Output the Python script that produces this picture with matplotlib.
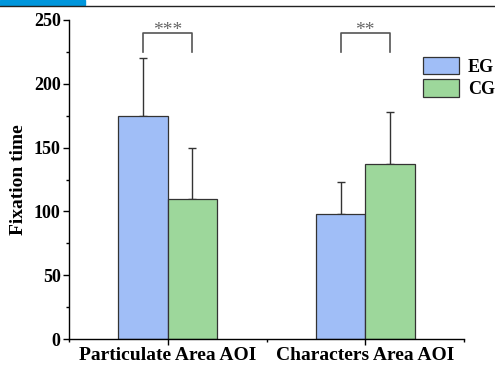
import numpy as np
import matplotlib
matplotlib.use("Agg")
import matplotlib.pyplot as plt
from matplotlib.patches import Rectangle
from matplotlib.lines import Line2D

# data
categories = ["Particulate Area AOI", "Characters Area AOI"]
groups = ["EG", "CG"]
eg_mean = [175, 98]
eg_err = [45, 25]
cg_mean = [110, 137]
cg_err = [40, 41]
sig_labels = ["***", "**"]

eg_color = "#a0bef7"
cg_color = "#9dd79b"

plt.rcParams["font.family"] = ["Liberation Serif", "DejaVu Serif"]
plt.rcParams["font.weight"] = "bold"

fig = plt.figure(figsize=(4.95, 3.65), dpi=100)
ax = fig.add_axes([69 / 495, 1 - 339 / 365, (464 - 69) / 495, (339 - 20) / 365])

x = np.arange(len(categories))
w = 0.25
ax.bar(x - w / 2, eg_mean, w, color=eg_color, edgecolor="#333333", linewidth=0.9, label=groups[0], zorder=2)
ax.bar(x + w / 2, cg_mean, w, color=cg_color, edgecolor="#333333", linewidth=0.9, label=groups[1], zorder=2)
# one-sided error bars
ax.errorbar(x - w / 2, eg_mean, yerr=[np.zeros(2), eg_err], fmt="none", ecolor="#333333",
            elinewidth=1, capsize=3, capthick=1, zorder=1)
ax.errorbar(x + w / 2, cg_mean, yerr=[np.zeros(2), cg_err], fmt="none", ecolor="#333333",
            elinewidth=1, capsize=3, capthick=1, zorder=1)

# significance brackets
for i, s in enumerate(sig_labels):
    x0, x1 = x[i] - w / 2, x[i] + w / 2
    ax.plot([x0, x0, x1, x1], [225, 240, 240, 225], color="#555555", lw=1.2, clip_on=False)
    ax.text(x[i], 242, s, ha="center", va="center", fontsize=14, color="#666666",
            fontweight="normal")

ax.set_xlim(-0.5, 1.5)
ax.set_ylim(0, 250)
ax.set_xticks(x)
ax.set_xticklabels(categories, fontsize=14)
ax.set_xticks([-0.5, 0.5, 1.5], minor=True)
ax.set_yticks(np.arange(0, 251, 50))
ax.set_yticks(np.arange(25, 250, 50), minor=True)
ax.tick_params(axis="y", labelsize=13, direction="out", length=4, width=1, pad=2)
ax.tick_params(axis="y", which="minor", length=2.5, width=1)
ax.tick_params(axis="x", direction="out", length=4, width=1, pad=2)
ax.tick_params(axis="x", which="minor", length=2.5, width=1)
ax.spines["top"].set_visible(False)
ax.spines["right"].set_visible(False)
ax.spines["left"].set_linewidth(1)
ax.spines["bottom"].set_linewidth(1)
ax.set_ylabel("Fixation time", fontsize=14, fontweight="bold", labelpad=5)

ax.legend(loc="upper left", bbox_to_anchor=(0.855, 0.935), frameon=False, fontsize=13,
          handlelength=2.0, handleheight=1.1, labelspacing=0.2, handletextpad=0.5)

# page decoration at top
fig.patches.append(Rectangle((0, 1 - 5 / 365), 85 / 495, 5 / 365, transform=fig.transFigure,
                             color="#0096dc", zorder=0))
fig.lines.append(Line2D([0, 1], [1 - 6 / 365, 1 - 6 / 365], transform=fig.transFigure,
                        color="#222222", lw=1))

fig.savefig("out.png", dpi=100)
